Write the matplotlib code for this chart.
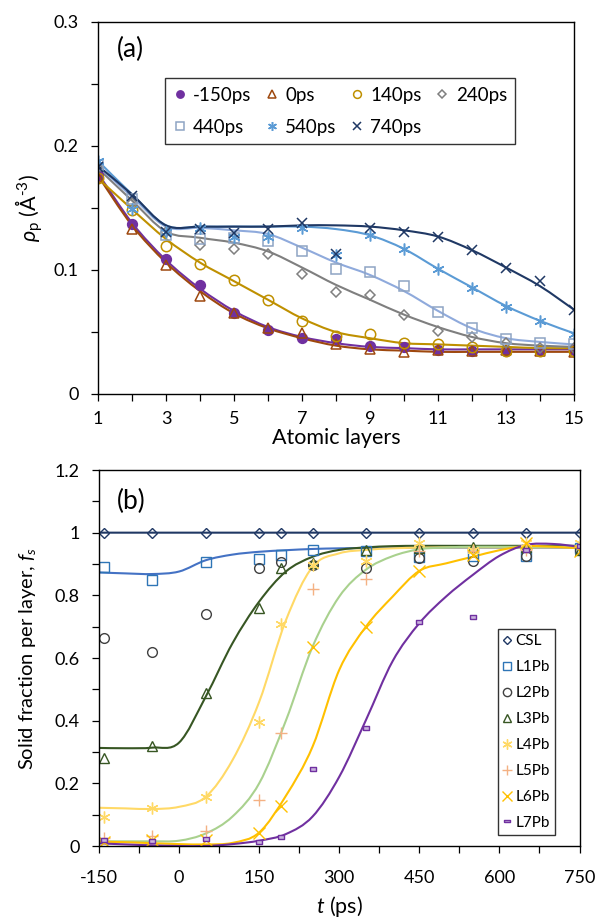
import numpy as np
import matplotlib
matplotlib.use("Agg")
import matplotlib.pyplot as plt
from matplotlib.path import Path
from matplotlib.patches import PathPatch
from matplotlib.ticker import MultipleLocator

plt.rcParams['font.family'] = ['Lato', 'DejaVu Sans']
plt.rcParams['mathtext.fontset'] = 'custom'
plt.rcParams['mathtext.rm'] = 'Lato'
plt.rcParams['mathtext.it'] = 'Lato:italic'
plt.rcParams['axes.unicode_minus'] = False

# ---- panel (a): density per atomic layer ----
layers = list(range(1, 16))
series_a = ['-150ps', '0ps', '140ps', '240ps', '440ps', '540ps', '740ps']

rho_m150 = [0.177, 0.137, 0.109, 0.088, 0.065, 0.052, 0.045, 0.044, 0.039, 0.0375, 0.0356, 0.035, 0.035, 0.035, 0.0356]
rho_0 = [0.175, 0.133, 0.104, 0.079, 0.065, 0.053, 0.049, 0.040, 0.036, 0.034, 0.0356, 0.035, 0.0356, 0.035, 0.034]
rho_140 = [0.174, 0.148, 0.119, 0.105, 0.092, 0.076, 0.059, 0.047, 0.048, 0.041, 0.0405, 0.038, 0.035, 0.035, 0.035]
rho_240 = [0.182, 0.154, 0.131, 0.120, 0.117, 0.113, 0.097, 0.082, 0.080, 0.064, 0.051, 0.046, 0.041, 0.037, 0.037]
rho_440 = [0.185, 0.157, 0.128, 0.125, 0.126, 0.123, 0.115, 0.101, 0.098, 0.087, 0.066, 0.053, 0.0445, 0.041, 0.040]
rho_540 = [0.188, 0.149, 0.131, 0.134, 0.127, 0.127, 0.134, 0.112, 0.128, 0.117, 0.101, 0.0855, 0.070, 0.059, 0.0485]
rho_740 = [0.183, 0.160, 0.131, 0.133, 0.130, 0.133, 0.1375, 0.113, 0.134, 0.131, 0.127, 0.1165, 0.1017, 0.091, 0.068]

# fitted curves read at each layer
fit_m150 = [0.178, 0.138, 0.108, 0.085, 0.067, 0.054, 0.046, 0.041, 0.038, 0.037, 0.036, 0.036, 0.036, 0.036, 0.036]
fit_0 = [0.176, 0.136, 0.106, 0.083, 0.065, 0.053, 0.045, 0.039, 0.036, 0.035, 0.034, 0.034, 0.034, 0.034, 0.034]
fit_140 = [0.174, 0.149, 0.125, 0.106, 0.091, 0.076, 0.061, 0.050, 0.045, 0.041, 0.040, 0.039, 0.038, 0.037, 0.037]
fit_240 = [0.182, 0.156, 0.131, 0.126, 0.122, 0.115, 0.102, 0.088, 0.076, 0.064, 0.054, 0.046, 0.041, 0.039, 0.038]
fit_440 = [0.184, 0.159, 0.135, 0.134, 0.132, 0.129, 0.118, 0.106, 0.096, 0.083, 0.067, 0.053, 0.045, 0.042, 0.040]
fit_540 = [0.188, 0.161, 0.136, 0.135, 0.135, 0.135, 0.135, 0.133, 0.128, 0.117, 0.101, 0.086, 0.071, 0.059, 0.049]
fit_740 = [0.184, 0.161, 0.136, 0.135, 0.135, 0.135, 0.136, 0.136, 0.135, 0.132, 0.127, 0.116, 0.102, 0.087, 0.068]

# ---- panel (b): solid fraction vs time ----
t_pts = [-140, -50, 50, 150, 190, 250, 350, 450, 550, 650, 750]
series_b = ['CSL', 'L1Pb', 'L2Pb', 'L3Pb', 'L4Pb', 'L5Pb', 'L6Pb', 'L7Pb']

fs_csl = [1.0, 1.0, 1.0, 1.0, 1.0, 1.0, 1.0, 1.0, 1.0, 1.0, 1.0]
fs_l1 = [0.89, 0.85, 0.905, 0.917, 0.928, 0.944, 0.941, 0.923, 0.926, 0.926, 0.95]
fs_l2 = [0.663, 0.62, 0.74, 0.886, 0.907, 0.897, 0.888, 0.918, 0.911, 0.926, 0.945]
fs_l3 = [0.28, 0.319, 0.487, 0.761, 0.888, 0.902, 0.945, 0.95, 0.955, 0.955, 0.945]
fs_l4 = [0.094, 0.12, 0.157, 0.397, 0.708, 0.897, 0.911, 0.966, 0.945, 0.968, 0.968]
fs_l5 = [0.024, 0.033, 0.048, 0.147, 0.36, 0.82, 0.851, 0.941, 0.941, 0.945, 0.955]
fs_l6 = [0.014, 0.019, 0.019, 0.043, 0.128, 0.636, 0.70, 0.878, 0.929, 0.968, 0.941]
fs_l7 = [0.019, 0.016, 0.021, 0.014, 0.028, 0.245, 0.376, 0.714, 0.730, 0.945, 0.957]

t_fit = [-150, -100, -50, 0, 50, 100, 150, 200, 250, 300, 350, 400, 450, 500, 550, 600, 650, 700, 750]
fit_csl = [1.0] * 19
fit_l1 = [0.873, 0.870, 0.868, 0.876, 0.912, 0.930, 0.939, 0.944, 0.948, 0.950, 0.951, 0.952, 0.952, 0.952, 0.952, 0.952, 0.952, 0.952, 0.952]
fit_l3 = [0.313, 0.312, 0.314, 0.330, 0.477, 0.647, 0.780, 0.876, 0.923, 0.945, 0.953, 0.957, 0.958, 0.958, 0.958, 0.958, 0.958, 0.958, 0.958]
fit_l4 = [0.122, 0.120, 0.118, 0.125, 0.157, 0.274, 0.460, 0.720, 0.891, 0.934, 0.945, 0.950, 0.952, 0.953, 0.953, 0.953, 0.953, 0.953, 0.953]
fit_l5 = [0.015, 0.015, 0.015, 0.017, 0.040, 0.094, 0.200, 0.400, 0.636, 0.796, 0.882, 0.925, 0.947, 0.953, 0.955, 0.955, 0.955, 0.955, 0.955]
fit_l6 = [0.014, 0.012, 0.009, 0.006, 0.005, 0.010, 0.043, 0.160, 0.317, 0.562, 0.700, 0.796, 0.878, 0.902, 0.923, 0.944, 0.957, 0.955, 0.950]
fit_l7 = [0.0085, 0.005, 0.002, 0.000, 0.000, 0.006, 0.017, 0.038, 0.094, 0.221, 0.402, 0.590, 0.711, 0.796, 0.865, 0.926, 0.961, 0.964, 0.955]


def smooth_patch(x, y, color, lw=1.5):
    """Excel-like smoothed line: Catmull-Rom segments as cubic Beziers."""
    pts = np.column_stack([x, y]).astype(float)
    n = len(pts)
    verts = [pts[0]]
    codes = [Path.MOVETO]
    for i in range(n - 1):
        p0 = pts[i - 1] if i > 0 else pts[i]
        p1, p2 = pts[i], pts[i + 1]
        p3 = pts[i + 2] if i + 2 < n else pts[i + 1]
        verts += [p1 + (p2 - p0) / 6, p2 - (p3 - p1) / 6, p2]
        codes += [Path.CURVE4] * 3
    return PathPatch(Path(verts, codes), facecolor='none', edgecolor=color,
                     lw=lw, capstyle='round', joinstyle='round')


rect_marker = [(-1, -0.5), (1, -0.5), (1, 0.5), (-1, 0.5), (-1, -0.5)]
asterisk = (6, 2, 0)

fig = plt.figure(figsize=(5.95, 9.22), dpi=100)
ax1 = fig.add_axes([98 / 595, 1 - 394 / 922, 476 / 595, 372 / 922])
ax2 = fig.add_axes([99 / 595, 1 - 846 / 922, 480.5 / 595, 376 / 922])

# panel (a)
a_vals = [rho_m150, rho_0, rho_140, rho_240, rho_440, rho_540, rho_740]
a_fits = [fit_m150, fit_0, fit_140, fit_240, fit_440, fit_540, fit_740]
a_line_colors = ['#7030A0', '#9E480E', '#BF9000', '#7F7F7F', '#8FAADC', '#5B9BD5', '#1F3864']
a_mk_colors = ['#7030A0', '#9E480E', '#BF9000', '#7F7F7F', '#8EA4C4', '#5B9BD5', '#1F3864']
a_markers = ['o', '^', 'o', 'D', 's', asterisk, 'x']
a_sizes = [7, 7, 7.5, 5, 7, 8.5, 7]

handles_a = []
for vals, fit, lc, mc, mk, ms in zip(a_vals, a_fits, a_line_colors, a_mk_colors, a_markers, a_sizes):
    ax1.add_patch(smooth_patch(layers, fit, lc))
    face = mc if mk == 'o' and mc == '#7030A0' else 'none'
    h, = ax1.plot(layers, vals, linestyle='none', marker=mk, ms=ms, mfc=face,
                  mec=mc, mew=1.1)
    handles_a.append(h)

ax1.set_xlim(1, 15)
ax1.set_ylim(0, 0.3)
ax1.set_xticks(range(1, 16, 2))
ax1.xaxis.set_minor_locator(MultipleLocator(1))
ax1.set_yticks([0, 0.1, 0.2, 0.3])
ax1.set_yticklabels(['0', '0.1', '0.2', '0.3'])
ax1.yaxis.set_minor_locator(MultipleLocator(0.05))
ax1.set_xlabel('Atomic layers', fontsize=15.5, labelpad=1)
ax1.set_ylabel(r'$\rho_{\mathrm{p}}$ (Å$^{\text{-3}}$)', fontsize=15.5, labelpad=6)
ax1.text(0.04, 0.925, '(a)', transform=ax1.transAxes, fontsize=19, va='center')

order = [0, 4, 1, 5, 2, 6, 3]
leg = ax1.legend([handles_a[i] for i in order], [series_a[i] for i in order],
                 ncol=4, loc='upper left', bbox_to_anchor=(0.141, 0.849),
                 borderaxespad=0, fontsize=13.5, frameon=True, fancybox=False,
                 edgecolor='black', handlelength=0.7, handletextpad=0.35,
                 columnspacing=0.75, labelspacing=0.8, borderpad=0.45,
                 markerscale=0.75)
leg.get_frame().set_linewidth(1.0)

# panel (b)
b_vals = [fs_csl, fs_l1, fs_l2, fs_l3, fs_l4, fs_l5, fs_l6, fs_l7]
b_mk_colors = ['#203864', '#2E75B6', '#404040', '#375623', '#FFD966', '#F4B183', '#FFC000', '#7030A0']
b_markers = ['D', 's', 'o', '^', asterisk, '+', 'x', rect_marker]
b_sizes = [5, 7, 7, 7, 8.5, 8, 8, 5]

b_fits = [(fit_csl, '#203864'), (fit_l1, '#4472C4'), (fit_l3, '#375623'),
          (fit_l4, '#FFD966'), (fit_l5, '#A9D18E'), (fit_l6, '#FFC000'),
          (fit_l7, '#7030A0')]
for fit, c in b_fits:
    ax2.add_patch(smooth_patch(t_fit, fit, c))

handles_b = []
for vals, mc, mk, ms in zip(b_vals, b_mk_colors, b_markers, b_sizes):
    face = '#C9B3DD' if mc == '#7030A0' else 'none'
    h, = ax2.plot(t_pts, vals, linestyle='none', marker=mk, ms=ms, mfc=face,
                  mec=mc, mew=1.0)
    handles_b.append(h)

ax2.set_xlim(-150, 750)
ax2.set_ylim(0, 1.2)
ax2.set_xticks(range(-150, 751, 150))
ax2.xaxis.set_minor_locator(MultipleLocator(75))
ax2.set_yticks([0, 0.2, 0.4, 0.6, 0.8, 1.0, 1.2])
ax2.set_yticklabels(['0', '0.2', '0.4', '0.6', '0.8', '1', '1.2'])
ax2.yaxis.set_minor_locator(MultipleLocator(0.1))
ax2.set_xlabel(r'$t$ (ps)', fontsize=15.5, labelpad=6)
ax2.set_ylabel(r'Solid fraction per layer, $f_s$', fontsize=14.5, labelpad=12)
ax2.text(0.0375, 0.915, '(b)', transform=ax2.transAxes, fontsize=19, va='center')

leg2 = ax2.legend(handles_b, series_b, loc='upper left', bbox_to_anchor=(0.83, 0.577),
                  borderaxespad=0, fontsize=11, frameon=True, fancybox=False,
                  edgecolor='black', handlelength=0.5, handletextpad=0.3,
                  labelspacing=0.78, borderpad=0.35, markerscale=0.85)
leg2.get_frame().set_linewidth(1.0)

for ax in (ax1, ax2):
    for s in ax.spines.values():
        s.set_linewidth(1.0)
    ax.tick_params(which='both', direction='out', length=5, width=0.9, labelsize=13)
    ax.tick_params(axis='y', pad=9)
ax1.tick_params(axis='x', pad=7)
ax2.tick_params(axis='x', pad=12)

fig.savefig('out.png', dpi=100)
